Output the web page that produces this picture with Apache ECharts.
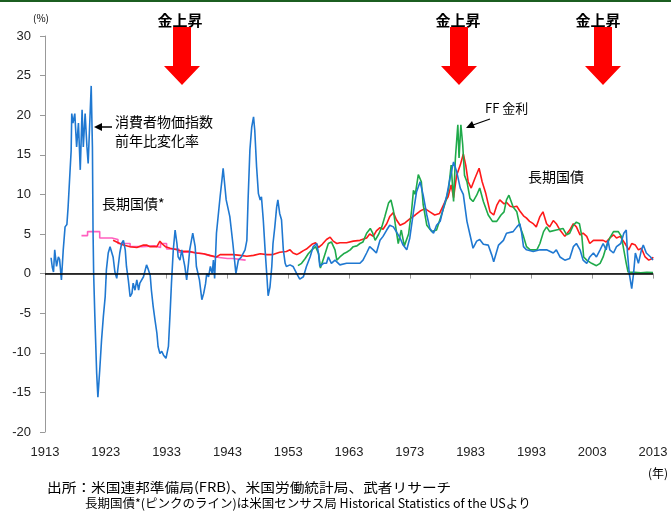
<!DOCTYPE html>
<html>
<head>
<meta charset="utf-8">
<script src="https://cdn.jsdelivr.net/npm/echarts@6/dist/echarts.min.js"></script>
<style>
html,body{margin:0;padding:0;background:#fff;}
#chart{width:671px;height:512px;}
</style>
</head>
<body>
<div id="chart"></div>
<script>
// ---- data (year, percent) ----
const startYear = 1913;
const endYear = 2013;
const yTicks = [-20, -15, -10, -5, 0, 5, 10, 15, 20, 25, 30];

const cpiYoY = [
[1914.0,2.0],[1914.2,0.8],[1914.4,0.2],[1914.6,3.0],[1914.9,0.9],[1915.2,2.1],[1915.4,1.8],[1915.7,-0.8],[1916.0,3.0],[1916.3,5.9],[1916.6,6.2],[1916.8,8.4],[1917.1,12.7],[1917.3,15.5],[1917.4,20.2],[1917.6,19.0],[1917.9,20.2],[1918.2,16.0],[1918.5,19.0],[1918.8,13.1],[1919.0,18.1],[1919.1,20.7],[1919.3,16.0],[1919.6,20.2],[1919.9,16.0],[1920.1,13.9],[1920.4,19.8],[1920.6,23.7],[1920.8,16.0],[1920.9,5.5],[1921.0,0],[1921.2,-5.4],[1921.5,-12.6],[1921.7,-15.6],[1922.0,-12.2],[1922.3,-8.4],[1922.6,-5.4],[1922.9,-2.9],[1923.1,0.5],[1923.4,2.6],[1923.7,3.4],[1924.0,3.6],[1924.2,2.1],[1924.5,0.2],[1924.8,-0.6],[1925.1,-0.6],[1925.3,2.6],[1925.6,3.8],[1925.9,4.2],[1926.2,3.0],[1926.4,0.9],[1926.7,-0.8],[1927.0,-2.9],[1927.3,-2.5],[1927.5,-1.2],[1927.8,-2.1],[1928.1,-0.8],[1928.4,-2.1],[1928.6,-1.2],[1929.2,-0.4],[1929.7,1.1],[1930.0,0.5],[1930.3,-0.2],[1930.5,-2.1],[1930.8,-4.2],[1931.1,-5.9],[1931.4,-7.5],[1931.6,-9.2],[1931.9,-10.1],[1932.2,-9.8],[1932.5,-10.3],[1932.9,-10.7],[1933.3,-9.2],[1933.6,-4.6],[1933.8,-1.2],[1934.1,3.0],[1934.4,5.5],[1934.7,3.8],[1934.9,2.1],[1935.2,1.7],[1935.5,3.0],[1935.8,1.7],[1936.0,0.9],[1936.3,-0.8],[1936.6,1.3],[1936.8,3.0],[1937.3,5.1],[1937.7,3.4],[1937.9,0.9],[1938.4,-0.8],[1938.8,-3.3],[1939.1,-2.5],[1939.4,-1.3],[1939.6,0],[1939.9,-0.4],[1940.2,0.9],[1940.5,0],[1940.7,1.7],[1940.9,-0.6],[1941.2,5.1],[1941.8,9.7],[1942.1,11.8],[1942.3,13.3],[1942.8,9.3],[1943.4,7.2],[1943.9,3.8],[1944.4,0],[1944.8,1.7],[1945.3,2.1],[1945.9,3.0],[1946.2,4.2],[1946.4,9.3],[1946.7,15.6],[1947.0,18.5],[1947.3,19.8],[1947.5,18.1],[1947.8,13.5],[1948.1,10.1],[1948.4,9.3],[1948.6,9.7],[1948.9,6.8],[1949.2,3.0],[1949.5,-0.4],[1949.7,-2.8],[1950.0,-1.7],[1950.3,0.9],[1950.5,3.8],[1950.8,5.9],[1951.1,8.4],[1951.3,9.3],[1951.6,7.6],[1951.9,6.8],[1952.2,3.0],[1952.5,1.3],[1952.7,0.9],[1953.3,1.1],[1953.8,0.9],[1954.4,0],[1954.9,-0.7],[1955.5,-0.4],[1956.0,0.9],[1956.6,2.1],[1957.1,3.4],[1957.7,3.8],[1958.0,2.5],[1958.2,0.9],[1958.8,1.3],[1959.3,1.3],[1959.6,2.1],[1960.1,1.3],[1960.7,1.7],[1961.5,1.1],[1962.6,1.3],[1963.7,1.3],[1964.8,1.3],[1965.3,1.7],[1965.9,2.6],[1966.4,3.4],[1967.0,3.0],[1967.5,2.6],[1968.1,4.2],[1968.6,4.7],[1969.2,5.5],[1969.7,6.1],[1970.3,5.9],[1970.6,5.7],[1971.4,4.5],[1971.9,3.6],[1972.5,3.0],[1973.0,4.5],[1973.6,7.8],[1974.1,10.3],[1974.7,11.6],[1975.2,9.9],[1975.8,7.4],[1976.3,5.7],[1976.9,5.1],[1977.4,6.1],[1978.0,6.6],[1978.5,8.2],[1979.1,9.9],[1979.6,12.0],[1980.2,14.1],[1980.7,12.9],[1981.3,10.8],[1981.8,10.0],[1982.4,6.6],[1982.9,4.9],[1983.4,3.2],[1984.0,4.1],[1984.5,4.3],[1985.1,3.7],[1985.9,3.6],[1986.5,2.3],[1986.8,1.5],[1987.6,3.6],[1988.4,4.2],[1988.9,5.1],[1990.0,5.3],[1990.6,5.9],[1991.1,6.3],[1991.4,5.1],[1991.7,3.4],[1992.2,3.0],[1993.3,2.8],[1994.4,3.0],[1995.5,3.0],[1996.6,2.6],[1997.1,3.0],[1997.7,2.1],[1998.5,1.7],[1999.3,1.9],[1999.9,3.4],[2000.4,3.8],[2001.0,3.0],[2001.5,1.7],[2002.1,1.3],[2002.6,2.1],[2003.2,2.6],[2003.7,2.1],[2004.3,3.0],[2004.8,3.8],[2005.3,3.0],[2005.6,4.2],[2005.9,3.0],[2006.5,2.6],[2007.0,3.4],[2007.7,3.8],[2008.2,5.1],[2008.6,5.5],[2008.8,2.6],[2009.1,0],[2009.5,-1.9],[2009.8,0],[2010.1,2.6],[2010.6,1.3],[2011.1,3.0],[2011.4,3.6],[2011.9,2.6],[2012.6,2.1],[2013.0,1.7]
];

const bondYield = [
[1924.2,4.2],[1925.3,3.8],[1925.9,3.6],[1927.0,3.4],[1928.1,3.3],[1929.2,3.6],[1929.7,3.6],[1930.3,3.4],[1931.4,3.4],[1931.9,4.1],[1932.2,3.8],[1932.8,3.4],[1933.6,3.2],[1934.7,3.0],[1935.7,2.8],[1936.8,2.8],[1937.9,2.6],[1939.1,2.5],[1940.1,2.3],[1941.2,2.1],[1941.8,2.4],[1942.9,2.4],[1944.0,2.4],[1945.1,2.3],[1946.2,2.2],[1947.3,2.3],[1948.4,2.5],[1949.5,2.4],[1950.5,2.4],[1951.6,2.7],[1952.7,2.8],[1953.3,3.0],[1953.8,2.6],[1954.4,2.4],[1954.9,2.6],[1955.5,2.9],[1956.0,3.1],[1956.9,3.7],[1957.5,3.9],[1958.0,3.3],[1958.6,3.7],[1959.3,4.3],[1959.9,4.6],[1960.4,4.1],[1961.0,3.8],[1961.5,3.9],[1962.6,3.9],[1963.7,4.1],[1964.8,4.2],[1965.9,4.5],[1966.4,5.0],[1967.0,4.7],[1967.5,5.4],[1968.1,5.8],[1968.6,5.6],[1969.2,6.3],[1969.7,7.2],[1970.3,7.7],[1970.8,6.8],[1971.4,6.1],[1972.2,6.4],[1973.0,6.9],[1973.9,7.4],[1974.7,7.9],[1975.5,8.2],[1976.3,7.8],[1977.1,7.4],[1977.9,7.6],[1978.8,9.1],[1979.3,9.7],[1979.8,11.2],[1980.2,9.6],[1980.7,12.4],[1981.3,13.7],[1981.8,15.1],[1982.2,13.7],[1982.6,11.6],[1983.1,10.8],[1983.7,12.0],[1984.4,13.3],[1984.9,11.6],[1985.5,10.1],[1986.2,7.8],[1986.8,7.4],[1987.3,8.6],[1987.8,9.3],[1988.5,8.8],[1988.9,9.0],[1989.5,8.5],[1990.0,8.4],[1990.6,8.5],[1991.1,7.9],[1991.7,7.3],[1992.2,7.0],[1992.7,6.6],[1993.3,6.3],[1993.8,5.9],[1994.4,7.2],[1994.9,7.8],[1995.5,6.3],[1996.0,5.9],[1996.6,6.7],[1997.1,6.3],[1997.7,5.5],[1998.5,4.7],[1999.3,5.5],[1999.9,6.3],[2000.4,5.9],[2001.0,4.9],[2001.5,5.1],[2002.1,4.7],[2002.6,3.8],[2003.2,4.2],[2003.7,4.2],[2004.3,4.2],[2004.8,4.2],[2005.3,4.0],[2005.9,4.5],[2006.5,4.9],[2007.0,4.5],[2007.6,4.7],[2008.4,3.8],[2009.0,3.0],[2009.5,3.8],[2010.1,3.6],[2010.6,3.0],[2011.1,3.2],[2011.7,2.1],[2012.3,1.7],[2012.9,1.9],[2013.0,2.1]
];

const bondYieldHist = [
[1919.0,4.8],[1920.0,5.3],[1922.0,4.5],[1924.0,4.3],[1925.0,3.8],[1927.0,3.4],[1929.0,3.5],[1931.0,3.3],[1932.0,3.8],[1933.0,3.1],[1935.0,2.7],[1937.0,2.5],[1939.0,2.3],[1940.0,2.1],[1941.0,1.9],[1943.0,1.9],[1944.0,1.8],[1945.0,1.7],[1946.0,1.7]
];

const fedFunds = [
[1954.6,1.0],[1955.2,1.3],[1955.8,1.9],[1956.3,2.5],[1956.9,3.0],[1957.5,3.4],[1958.0,2.5],[1958.3,0.7],[1958.9,2.1],[1959.6,3.8],[1960.1,4.0],[1960.7,3.0],[1961.0,1.7],[1961.5,2.1],[1962.1,2.5],[1962.6,2.7],[1963.2,3.0],[1963.7,3.4],[1964.3,3.5],[1964.8,3.8],[1965.3,4.0],[1965.9,5.1],[1966.5,5.7],[1966.9,5.1],[1967.3,4.2],[1967.9,5.0],[1968.4,5.9],[1968.9,7.2],[1969.5,8.9],[1969.9,9.3],[1970.3,8.0],[1970.6,6.3],[1971.1,3.8],[1971.6,5.5],[1972.1,3.5],[1972.8,5.0],[1973.3,8.0],[1973.6,10.5],[1973.9,10.0],[1974.4,12.5],[1974.9,11.6],[1975.2,8.7],[1975.8,6.1],[1976.6,5.3],[1977.4,5.5],[1978.2,7.4],[1978.9,9.1],[1979.4,10.8],[1979.8,13.7],[1980.2,9.1],[1980.5,14.6],[1980.9,18.8],[1981.1,14.6],[1981.4,18.8],[1981.7,16.3],[1982.0,12.4],[1982.4,11.6],[1982.9,9.5],[1983.4,9.1],[1984.0,9.9],[1984.5,10.8],[1985.1,9.1],[1985.9,7.4],[1986.6,6.6],[1987.3,6.6],[1988.0,7.4],[1988.5,7.8],[1988.9,9.3],[1989.3,9.9],[1990.0,8.4],[1990.6,7.8],[1991.1,6.0],[1991.7,4.7],[1992.2,3.4],[1992.8,3.0],[1993.9,3.0],[1994.4,3.8],[1995.0,5.3],[1995.5,5.9],[1996.0,5.3],[1997.1,5.5],[1998.2,5.7],[1998.8,4.9],[1999.3,5.1],[1999.9,6.1],[2000.4,6.5],[2000.9,6.3],[2001.3,4.7],[2001.6,2.1],[2002.1,1.7],[2002.9,1.3],[2003.7,1.0],[2004.3,1.3],[2004.8,2.1],[2005.3,3.4],[2005.9,4.5],[2006.5,5.3],[2007.3,5.3],[2007.8,4.7],[2008.2,3.0],[2008.6,1.3],[2008.9,0.2],[2009.2,0.15],[2010.0,0.15],[2011.0,0.1],[2012.0,0.15],[2013.0,0.12]
];

// ---- chart ----
const toX = arr => arr.map(p => [p[0] - startYear, p[1]]);
const jp = '"Noto Sans CJK JP", sans-serif';
const num = '"Liberation Sans", Arial, sans-serif';

function downArrow(cx) {
  return {
    type: 'polygon', silent: true,
    shape: { points: [[cx-9,27],[cx+9,27],[cx+9,66],[cx+18,66],[cx,85],[cx-18,66],[cx-9,66]] },
    style: { fill: '#ff0000' }
  };
}
function txt(x, y, s, size, opt, extra) {
  return Object.assign({
    type: 'text', silent: true, x: x, y: y,
    style: Object.assign({ text: s, font: size + 'px ' + jp, fill: '#000', textVerticalAlign: 'middle' }, opt || {})
  }, extra || {});
}

const chart = echarts.init(document.getElementById('chart'), null, { renderer: 'canvas' });
chart.setOption({
  backgroundColor: '#fff',
  animation: false,
  grid: { left: 45, right: 18, top: 36, bottom: 80, containLabel: false },
  xAxis: {
    type: 'value', min: 0, max: endYear - startYear, interval: 10,
    axisLine: { show: true, lineStyle: { color: '#999', width: 1 } },
    axisTick: { show: true, length: 5, lineStyle: { color: '#999' } },
    axisLabel: { formatter: v => String(v + startYear), color: '#222', fontSize: 13, fontFamily: num, margin: 14 },
    splitLine: { show: false }
  },
  yAxis: {
    type: 'value', min: yTicks[0], max: yTicks[yTicks.length-1], interval: 5,
    axisLine: { show: true, lineStyle: { color: '#999', width: 1 } },
    axisTick: { show: true, length: 5, lineStyle: { color: '#999' } },
    axisLabel: { color: '#222', fontSize: 13, fontFamily: num, margin: 14 },
    splitLine: { show: false }
  },
  series: [
    { name: '長期国債(センサス局)', type: 'line', data: toX(bondYieldHist), step: 'end', showSymbol: false, lineStyle: { color: '#ff5fbf', width: 1.6 } },
    { name: '長期国債', type: 'line', data: toX(bondYield), showSymbol: false, lineStyle: { color: '#ff1a1a', width: 1.6 } },
    { name: 'FF金利', type: 'line', data: toX(fedFunds), showSymbol: false, lineStyle: { color: '#1faa4a', width: 1.6 } },
    { name: '消費者物価指数前年比変化率', type: 'line', data: toX(cpiYoY), showSymbol: false, lineStyle: { color: '#1f78d1', width: 1.6 },
      markLine: { silent: true, symbol: 'none', label: { show: false }, lineStyle: { color: '#000', width: 1.5, type: 'solid' }, data: [{ yAxis: 0 }] } }
  ],
  graphic: [
    { type: 'rect', silent: true, shape: { x: 0, y: 0, width: 671, height: 2 }, style: { fill: '#1b5e20' } },
    txt(33, 18, '(%)', 10, { font: '10px ' + jp }),
    txt(180, 20, '金上昇', 15, { font: 'bold 15px ' + jp, textAlign: 'center' }),
    txt(458, 20, '金上昇', 15, { font: 'bold 15px ' + jp, textAlign: 'center' }),
    txt(598, 20, '金上昇', 15, { font: 'bold 15px ' + jp, textAlign: 'center' }),
    downArrow(182), downArrow(459), downArrow(603),
    txt(115, 122, '消費者物価指数', 14),
    txt(115, 141, '前年比変化率', 14),
    { type: 'line', silent: true, shape: { x1: 112, y1: 127, x2: 100, y2: 127 }, style: { stroke: '#000', lineWidth: 1.5 } },
    { type: 'polygon', silent: true, shape: { points: [[94,127],[102,123],[102,131]] }, style: { fill: '#000' } },
    txt(102, 204, '長期国債*', 14),
    txt(485, 108, 'FF 金利', 13),
    { type: 'line', silent: true, shape: { x1: 490, y1: 119, x2: 473, y2: 125 }, style: { stroke: '#000', lineWidth: 1.2 } },
    { type: 'polygon', silent: true, shape: { points: [[466,128],[472,121],[475,128]] }, style: { fill: '#000' } },
    txt(528, 177, '長期国債', 14),
    txt(648, 473, '(年)', 12),
    txt(47, 487, '出所：米国連邦準備局(FRB)、米国労働統計局、武者リサーチ', 13, null, { scaleX: 1.13 }),
    txt(85, 503, '長期国債*(ピンクのライン)は米国センサス局 Historical Statistics of the USより', 12.5)
  ]
});
</script>
</body>
</html>
